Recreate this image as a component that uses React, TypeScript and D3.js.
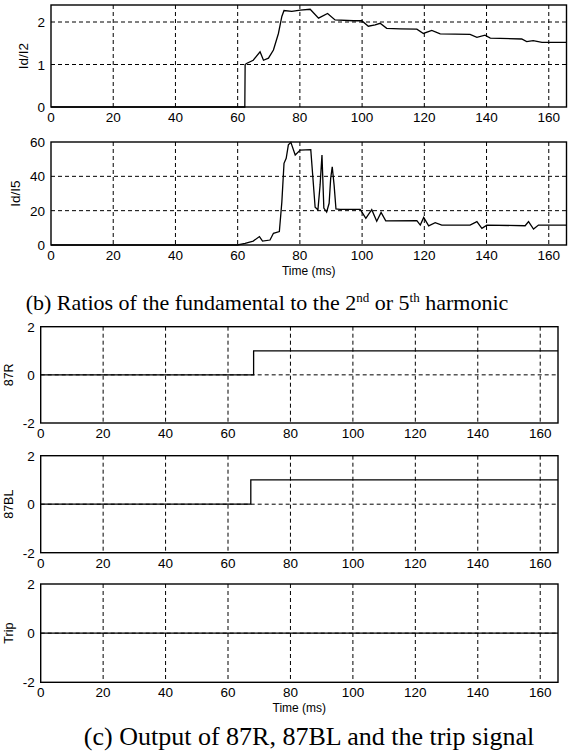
import React from "react";
import * as d3 from "d3";

// ---------- data ----------
const xTicks = [0, 20, 40, 60, 80, 100, 120, 140, 160];
const xMax = 165.7;

const ratio2Time = [0, 62.3, 62.4, 63, 65, 67.2, 68.3, 69.9, 71.5, 73.1, 74.2, 74.9, 77.4, 80.1, 83.3, 86, 88.9, 91.3, 97.2, 99.9, 102, 104.2, 105.8, 107.9, 112.2, 117.6, 119.7, 122.4, 125.1, 134.7, 136.9, 139.5, 141.2, 151.3, 152.9, 155, 157.8, 165.7];
const ratio2Val = [0, 0, 1.0, 1.03, 1.1, 1.3, 1.1, 1.15, 1.34, 1.73, 2.13, 2.27, 2.25, 2.28, 2.3, 2.09, 2.2, 2.05, 2.03, 2.03, 1.9, 1.93, 1.97, 1.85, 1.84, 1.83, 1.73, 1.8, 1.72, 1.71, 1.64, 1.69, 1.62, 1.6, 1.54, 1.56, 1.52, 1.52];
const ratio2Ticks = [0, 1, 2];

const ratio5Time = [0, 60, 62.4, 65, 67, 68, 70.4, 71.5, 73.4, 74.2, 74.9, 75.6, 76.3, 77.1, 78.5, 80.1, 83.5, 84.9, 85.8, 86.5, 87.1, 87.7, 88.6, 89.4, 89.9, 90.4, 91, 91.6, 92.9, 99.4, 101.2, 103.1, 104.7, 106.1, 107.6, 117.6, 118.7, 119.8, 121.4, 123.5, 125.6, 134.7, 136.9, 138.5, 140.1, 152.4, 153.5, 155.1, 156.7, 165.7];
const ratio5Val = [0, 0, 1, 2.3, 4.9, 2.3, 2.9, 6.8, 7.8, 25, 47.6, 50.5, 58.3, 59.8, 52.4, 55.3, 55.5, 22, 20.5, 35, 52.4, 21.5, 19.2, 24.3, 38.8, 45.6, 34.9, 21, 20.8, 20.8, 15.5, 20.6, 13.8, 19, 14.1, 14.2, 11.6, 16.1, 11.1, 13, 11.6, 11.6, 13.6, 9.7, 11.6, 11.2, 13.6, 9.3, 11.6, 11.6];
const ratio5Ticks = [0, 20, 40, 60];

const logicTicks = [-2, 0, 2];
const r87Time = [0, 68.2, 165.7];
const r87Val = [0, 1, 1];
const bl87Time = [0, 67.3, 165.7];
const bl87Val = [0, 1, 1];
const tripTime = [0, 165.7];
const tripVal = [0, 0];

const captionB = ["(b) Ratios of the fundamental to the 2", "nd", " or 5", "th", " harmonic"];
const captionC = "(c) Output of 87R, 87BL and the trip signal";
const xLabel = "Time (ms)";

// ---------- drawing ----------
const SANS = "'Liberation Sans', Arial, Helvetica, sans-serif";
const SERIF = "'Liberation Serif', 'Times New Roman', Times, serif";

type PanelProps = {
  left: number; top: number; right: number; bottom: number;
  yDomain: [number, number]; yTicks: number[];
  times: number[]; vals: number[]; step?: boolean;
  yLabel: string; yLabelX: number; yLabelSize: number;
  xTitle?: boolean;
};

function Panel(p: PanelProps) {
  const x = d3.scaleLinear().domain([0, xMax]).range([p.left, p.right]);
  const y = d3.scaleLinear().domain(p.yDomain).range([p.bottom, p.top]);
  const pts = p.times.map((t, i) => [t, p.vals[i]] as [number, number]);
  const line = d3.line<[number, number]>()
    .x(d => x(d[0])).y(d => y(d[1]))
    .curve(p.step ? d3.curveStepAfter : d3.curveLinear);
  const dash = "4,3";
  return (
    <g>
      {xTicks.filter(t => t > 0).map(t => (
        <line key={"gx" + t} x1={x(t)} x2={x(t)} y1={p.top} y2={p.bottom}
          stroke="#000" strokeWidth={1} strokeDasharray={dash} />
      ))}
      {p.yTicks.filter(v => v > p.yDomain[0] && v < p.yDomain[1]).map(v => (
        <line key={"gy" + v} x1={p.left} x2={p.right} y1={y(v)} y2={y(v)}
          stroke="#000" strokeWidth={1} strokeDasharray={dash} />
      ))}
      <path d={line(pts) || ""} fill="none" stroke="#000" strokeWidth={1.3} />
      <rect x={p.left} y={p.top} width={p.right - p.left} height={p.bottom - p.top}
        fill="none" stroke="#000" strokeWidth={1.4} />
      {xTicks.map(t => (
        <text key={"tx" + t} x={x(t)} y={p.bottom + 15} textAnchor="middle"
          fontFamily={SANS} fontSize={13.5}>{t}</text>
      ))}
      {p.yTicks.map(v => (
        <text key={"ty" + v} x={p.left - 6} y={y(v) + 5} textAnchor="end"
          fontFamily={SANS} fontSize={13.5}>{v}</text>
      ))}
      <text transform={`translate(${p.yLabelX},${(p.top + p.bottom) / 2}) rotate(-90)`}
        textAnchor="middle" fontFamily={SANS} fontSize={p.yLabelSize}>{p.yLabel}</text>
      {p.xTitle && (
        <text x={(p.left + p.right) / 2} y={p.bottom + 30} textAnchor="middle"
          fontFamily={SANS} fontSize={12}>{xLabel}</text>
      )}
    </g>
  );
}

export default function App() {
  return (
    <svg width={569} height={751} style={{ position: "absolute", left: 0, top: 0, background: "#fff" }}>
      <rect x={0} y={0} width={569} height={751} fill="#fff" />
      <Panel left={51} top={5} right={566.5} bottom={107} yDomain={[0, 2.4]} yTicks={ratio2Ticks}
        times={ratio2Time} vals={ratio2Val} yLabel="Id/I2" yLabelX={28} yLabelSize={13.5} />
      <Panel left={51} top={142} right={566.5} bottom={245} yDomain={[0, 60]} yTicks={ratio5Ticks}
        times={ratio5Time} vals={ratio5Val} yLabel="Id/I5" yLabelX={20} yLabelSize={13.5} xTitle />
      <text x={267} y={310} textAnchor="middle" fontFamily={SERIF} fontSize={22}>
        {captionB[0]}
        <tspan fontSize={13} dy={-8}>{captionB[1]}</tspan>
        <tspan dy={8}>{captionB[2]}</tspan>
        <tspan fontSize={13} dy={-8}>{captionB[3]}</tspan>
        <tspan dy={8}>{captionB[4]}</tspan>
      </text>
      <Panel left={40.7} top={326.7} right={558} bottom={423} yDomain={[-2, 2]} yTicks={logicTicks}
        times={r87Time} vals={r87Val} step yLabel="87R" yLabelX={13} yLabelSize={12.5} />
      <Panel left={40.7} top={455.7} right={558} bottom={552.7} yDomain={[-2, 2]} yTicks={logicTicks}
        times={bl87Time} vals={bl87Val} step yLabel="87BL" yLabelX={13} yLabelSize={12.5} />
      <Panel left={40.7} top={584} right={558} bottom={682.3} yDomain={[-2, 2]} yTicks={logicTicks}
        times={tripTime} vals={tripVal} step yLabel="Trip" yLabelX={13} yLabelSize={12.5} xTitle />
      <text x={309} y={745} textAnchor="middle" fontFamily={SERIF} fontSize={26}>{captionC}</text>
    </svg>
  );
}
